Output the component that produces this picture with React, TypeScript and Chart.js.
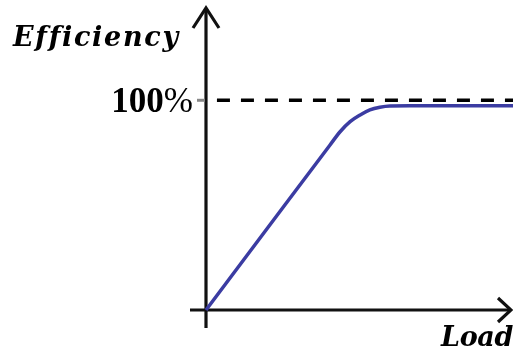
import { useEffect, useRef } from 'react';
import { Chart, registerables } from 'chart.js';

Chart.register(...registerables);

// Data (load in % of chart width units, efficiency in %)
const loadValues = [0, 20, 40.8, 44.1, 47.4, 50.7, 53.9, 57.2, 60.5, 67.1, 101];
const efficiencyValues = [0, 38.6, 78.7, 85.0, 89.8, 93.0, 95.4, 96.7, 97.3, 97.4, 97.4];
const referenceLoad = [3.6, 101];
const referenceEfficiency = [100, 100];
const yTicks = [100];
const yTickNumbers = ['100'];
const yTickUnits = ['%'];
const xTitle = 'Load';
const yTitle = 'Efficiency';

const fitText = (ctx: CanvasRenderingContext2D, text: string, font: string, x: number, baseline: number, width: number) => {
  ctx.save();
  ctx.font = font;
  ctx.textAlign = 'left';
  ctx.textBaseline = 'alphabetic';
  const w = ctx.measureText(text).width;
  const ls = (width - w) / text.length;
  (ctx as any).letterSpacing = ls + 'px';
  ctx.fillStyle = '#000';
  ctx.fillText(text, x, baseline);
  (ctx as any).letterSpacing = '0px';
  ctx.restore();
};

const axesPlugin = {
  id: 'arrowAxes',
  beforeDatasetsDraw(chart: any) {
    const ctx: CanvasRenderingContext2D = chart.ctx;
    const xs = chart.scales.x;
    const ys = chart.scales.y;
    const ox = xs.getPixelForValue(0);
    const oy = ys.getPixelForValue(0);
    const top = chart.chartArea.top;
    const right = chart.chartArea.right + 1;
    ctx.save();
    ctx.strokeStyle = '#111';
    ctx.lineWidth = 3.2;
    ctx.lineCap = 'butt';
    ctx.lineJoin = 'miter';
    // y axis
    ctx.beginPath();
    ctx.moveTo(ox, oy + 18);
    ctx.lineTo(ox, top + 1);
    ctx.stroke();
    ctx.beginPath();
    ctx.moveTo(ox - 13, top + 20);
    ctx.lineTo(ox, top);
    ctx.lineTo(ox + 13, top + 20);
    ctx.stroke();
    // x axis
    ctx.beginPath();
    ctx.moveTo(ox - 16, oy);
    ctx.lineTo(right - 1, oy);
    ctx.stroke();
    ctx.beginPath();
    ctx.moveTo(right - 13, oy - 12);
    ctx.lineTo(right, oy);
    ctx.lineTo(right - 13, oy + 12);
    ctx.stroke();
    // y ticks
    yTicks.forEach((t, i) => {
      const py = ys.getPixelForValue(t);
      ctx.strokeStyle = '#888';
      ctx.lineWidth = 3;
      ctx.beginPath();
      ctx.moveTo(ox - 9, py);
      ctx.lineTo(ox - 1, py);
      ctx.stroke();
      ctx.fillStyle = '#000';
      ctx.textAlign = 'right';
      ctx.textBaseline = 'alphabetic';
      ctx.font = '35px "Liberation Serif"';
      const unitW = ctx.measureText(yTickUnits[i]).width;
      ctx.fillText(yTickUnits[i], ox - 13, py + 12);
      ctx.font = 'bold 35px "Liberation Serif"';
      ctx.fillText(yTickNumbers[i], ox - 13 - unitW, py + 12);
    });
    ctx.restore();
    fitText(ctx, yTitle, 'italic bold 27px "DejaVu Serif"', 13, 46, 166);
    fitText(ctx, xTitle, 'italic bold 27px "DejaVu Serif"', 441, 346, 72);
  },
};

export default function App() {
  const canvasRef = useRef<HTMLCanvasElement | null>(null);

  useEffect(() => {
    if (!canvasRef.current) return;
    const chart = new Chart(canvasRef.current, {
      type: 'line',
      data: {
        datasets: [
          {
            label: 'Efficiency',
            data: loadValues.map((x, i) => ({ x, y: efficiencyValues[i] })),
            borderColor: '#3b3ca2',
            borderWidth: 3.5,
            pointRadius: 0,
            cubicInterpolationMode: 'monotone',
            fill: false,
            clip: false as any,
          },
          {
            label: '100%',
            data: referenceLoad.map((x, i) => ({ x, y: referenceEfficiency[i] })),
            borderColor: '#000',
            borderWidth: 3.5,
            borderDash: [13, 11],
            pointRadius: 0,
            tension: 0,
            fill: false,
            clip: false as any,
          },
        ],
      },
      options: {
        animation: false,
        responsive: false,
        devicePixelRatio: 1,
        layout: { padding: { left: 206, right: 3, top: 8, bottom: 39 } },
        plugins: { legend: { display: false }, tooltip: { enabled: false } },
        events: [],
        scales: {
          x: { type: 'linear', display: false, min: 0, max: 100 },
          y: { type: 'linear', display: false, min: 0, max: 144 },
        },
      },
      plugins: [axesPlugin],
    });
    return () => chart.destroy();
  }, []);

  return (
    <div style={{ position: 'absolute', left: 0, top: 0, width: 513, height: 349, background: '#fff' }}>
      <canvas ref={canvasRef} width={513} height={349} />
    </div>
  );
}
